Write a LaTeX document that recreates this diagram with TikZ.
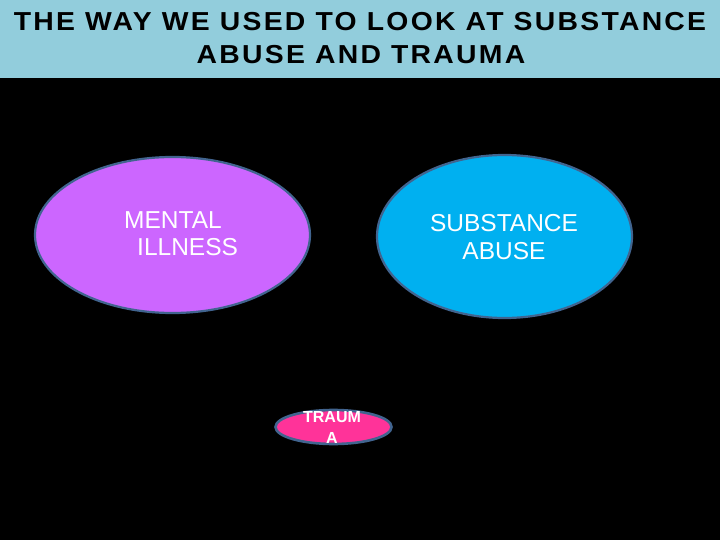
\documentclass[tikz,border=0pt]{standalone}
\usepackage{fontspec}
\setmainfont{Liberation Sans}
\usetikzlibrary{shapes.geometric}
\definecolor{titlebar}{HTML}{92CDDC}
\definecolor{mipurple}{HTML}{CC66FF}
\definecolor{sablue}{HTML}{00B0F0}
\definecolor{trpink}{HTML}{FF3399}
\definecolor{rimblue}{HTML}{41648F}
\tikzset{
  blob/.style={ellipse, draw=rimblue, line width=2.2pt, inner sep=0pt},
  titletext/.style={font=\bfseries\fontsize{26}{30}\selectfont\addfontfeature{LetterSpace=8}, text=black, anchor=base, inner sep=0pt},
  bodytext/.style={font=\fontsize{24.5}{26}\selectfont, text=white, anchor=base west, inner sep=0pt},
  smalltext/.style={font=\bfseries\fontsize{16}{18}\selectfont, text=white, anchor=base, inner sep=0pt},
}
\begin{document}
\begin{tikzpicture}[x=1pt,y=-1pt]
\useasboundingbox (0,0) rectangle (720,540);
\fill[black] (0,0) rectangle (720,540);
\fill[titlebar] (0,0) rectangle (720,78);
\node[titletext] (t1) at (360,31) {\scalebox{1.09}[1]{THE WAY WE USED TO LOOK AT SUBSTANCE}};
\node[titletext] (t2) at (361,64) {\scalebox{1.09}[1]{ABUSE AND TRAUMA}};
\node[blob, fill=mipurple, minimum width=275pt, minimum height=156pt] (mi) at (172.5,235) {};
\node[blob, fill=sablue, minimum width=255pt, minimum height=163pt] (sa) at (504.5,236.5) {};
\node[blob, fill=trpink, line width=2.6pt, minimum width=116pt, minimum height=34pt] (tr) at (333.5,427) {};
\node[bodytext] (mi1) at (124,229) {MENTAL};
\node[bodytext] (mi2) at (137,255) {ILLNESS};
\node[bodytext, anchor=base] (sa1) at (504,232) {SUBSTANCE};
\node[bodytext, anchor=base] (sa2) at (504,259) {ABUSE};
\node[smalltext] (tr1) at (332,422) {TRAUM};
\node[smalltext] (tr2) at (332,443) {A};
\end{tikzpicture}
\end{document}
